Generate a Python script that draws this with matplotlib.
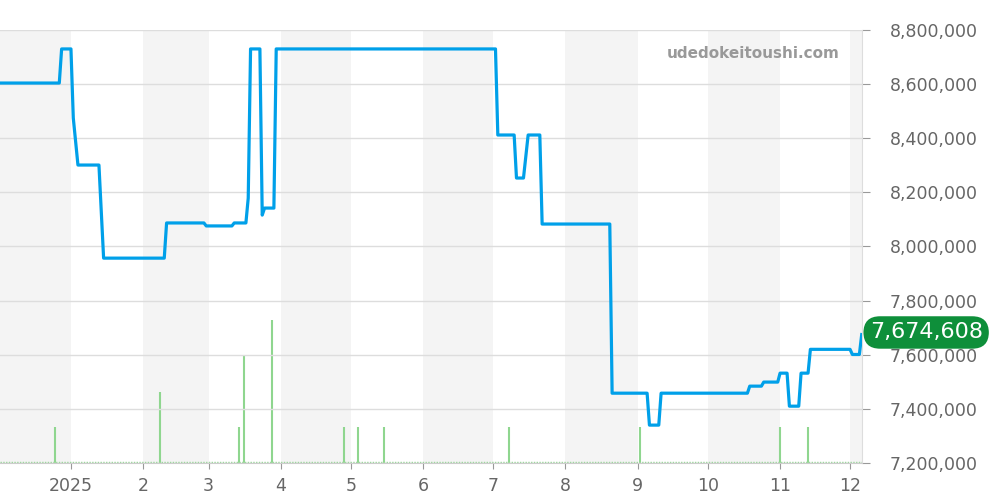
import matplotlib
matplotlib.use("Agg")
import matplotlib.pyplot as plt
import matplotlib.dates as mdates
from matplotlib.ticker import FuncFormatter, FixedLocator
from datetime import datetime

# ---- data ----
price_dates = [
    "2024-12-01", "2024-12-27", "2024-12-28", "2025-01-01", "2025-01-02", "2025-01-04",
    "2025-01-13", "2025-01-15", "2025-02-10", "2025-02-11", "2025-02-27", "2025-02-28",
    "2025-03-11", "2025-03-12", "2025-03-17", "2025-03-18", "2025-03-19", "2025-03-23",
    "2025-03-24", "2025-03-25", "2025-03-29", "2025-03-30", "2025-07-02", "2025-07-03",
    "2025-07-10", "2025-07-11", "2025-07-14", "2025-07-16", "2025-07-21", "2025-07-22",
    "2025-08-20", "2025-08-21", "2025-09-05", "2025-09-06", "2025-09-10", "2025-09-11",
    "2025-10-18", "2025-10-19", "2025-10-24", "2025-10-25", "2025-10-31", "2025-11-01",
    "2025-11-04", "2025-11-05", "2025-11-09", "2025-11-10", "2025-11-13", "2025-11-14",
    "2025-12-01", "2025-12-02", "2025-12-05", "2025-12-06",
]
price_values = [
    8604000, 8604000, 8730000, 8730000, 8475000, 8301000,
    8301000, 7957000, 7957000, 8087000, 8087000, 8076000,
    8076000, 8087000, 8087000, 8179000, 8730000, 8730000,
    8116000, 8142000, 8142000, 8730000, 8730000, 8412000,
    8412000, 8253000, 8253000, 8412000, 8412000, 8083000,
    8083000, 7458000, 7458000, 7340000, 7340000, 7458000,
    7458000, 7484000, 7484000, 7499000, 7499000, 7532000,
    7532000, 7410000, 7410000, 7532000, 7532000, 7620000,
    7620000, 7601000, 7601000, 7674608,
]
volume_dates = [
    "2024-12-25", "2025-02-08", "2025-03-14", "2025-03-16", "2025-03-28",
    "2025-04-28", "2025-05-04", "2025-05-15", "2025-07-08", "2025-09-02",
    "2025-11-01", "2025-11-13",
]
volume_values = [1, 2, 1, 3, 4, 1, 1, 1, 1, 1, 1, 1]

y_ticks = [7200000, 7400000, 7600000, 7800000, 8000000, 8200000, 8400000, 8600000, 8800000]
last_label = "7,674,608"
watermark = "udedokeitoushi.com"

# ---- styling ----
LINE = "#00a0e9"
VOL = "#8fd68f"
SHADE = "#f4f4f4"
GRID = "#dddddd"
TXT = "#666666"

pdates = [datetime.strptime(d, "%Y-%m-%d") for d in price_dates]
vdates = [datetime.strptime(d, "%Y-%m-%d") for d in volume_dates]

x0 = datetime(2024, 12, 1, 14)
x1 = datetime(2025, 12, 6, 3)

fig = plt.figure(figsize=(10, 5), dpi=100)
ax = fig.add_axes([0.0, 0.074, 0.862, 0.866])
axv = ax.twinx()
ax.set_xlim(x0, x1)
ax.set_ylim(7200000, 8800000)

# background layer (volume axes, drawn beneath the price axes)
axv.set_zorder(0)
ax.set_zorder(1)
ax.patch.set_visible(False)

shade_starts = [datetime(2024, 12, 1), datetime(2025, 2, 1), datetime(2025, 4, 1),
                datetime(2025, 6, 1), datetime(2025, 8, 1), datetime(2025, 10, 1),
                datetime(2025, 12, 1)]
for s in shade_starts:
    e = datetime(s.year + (s.month // 12), (s.month % 12) + 1, 1)
    axv.axvspan(s, e, color=SHADE, lw=0, zorder=0)

axv.set_ylim(0, 12.13)
axv.vlines(vdates, 0, volume_values, color=VOL, lw=1.5, zorder=2)
axv.axhline(0.04, color=VOL, lw=1, ls=(0, (1, 1)), zorder=2)
axv.set_yticks([])
for sp in axv.spines.values():
    sp.set_visible(False)

for t in y_ticks:
    ax.axhline(t, color=GRID, lw=1, zorder=1)

ax.plot(pdates, price_values, color=LINE, lw=2.3, zorder=3)

# axes styling
for sp in ["top", "left"]:
    ax.spines[sp].set_visible(False)
ax.spines["bottom"].set_color("#cccccc")
ax.spines["right"].set_color("#dddddd")
ax.yaxis.tick_right()
ax.yaxis.set_major_locator(FixedLocator(y_ticks))
ax.yaxis.set_major_formatter(FuncFormatter(lambda v, p: f"{int(v):,}"))
ax.tick_params(axis="y", length=5.8, color="#999999", labelcolor=TXT, labelsize=12.5, pad=14.4)
for lbl in ax.get_yticklabels():
    lbl.set_horizontalalignment("left")

ax.xaxis.set_major_locator(mdates.MonthLocator())
ax.xaxis.set_major_formatter(FuncFormatter(
    lambda v, p: "2025" if mdates.num2date(v).month == 1 else str(mdates.num2date(v).month)))
ax.tick_params(axis="x", length=4, color="#999999", labelcolor=TXT, labelsize=12.5, pad=6)

# last value label
ax.annotate(last_label, xy=(1.0, price_values[-1]), xycoords=("axes fraction", "data"),
            xytext=(5.5, 1.5), textcoords="offset points", va="center", ha="left",
            color="white", fontsize=16,
            bbox=dict(boxstyle="round,pad=0.28,rounding_size=0.75", fc="#0e8f3a", ec="none"),
            annotation_clip=False, zorder=10)

fig.text(0.84, 0.893, watermark, ha="right", va="center", color="#999999",
         fontsize=11, fontweight="bold")

fig.savefig("out.png", dpi=100)
